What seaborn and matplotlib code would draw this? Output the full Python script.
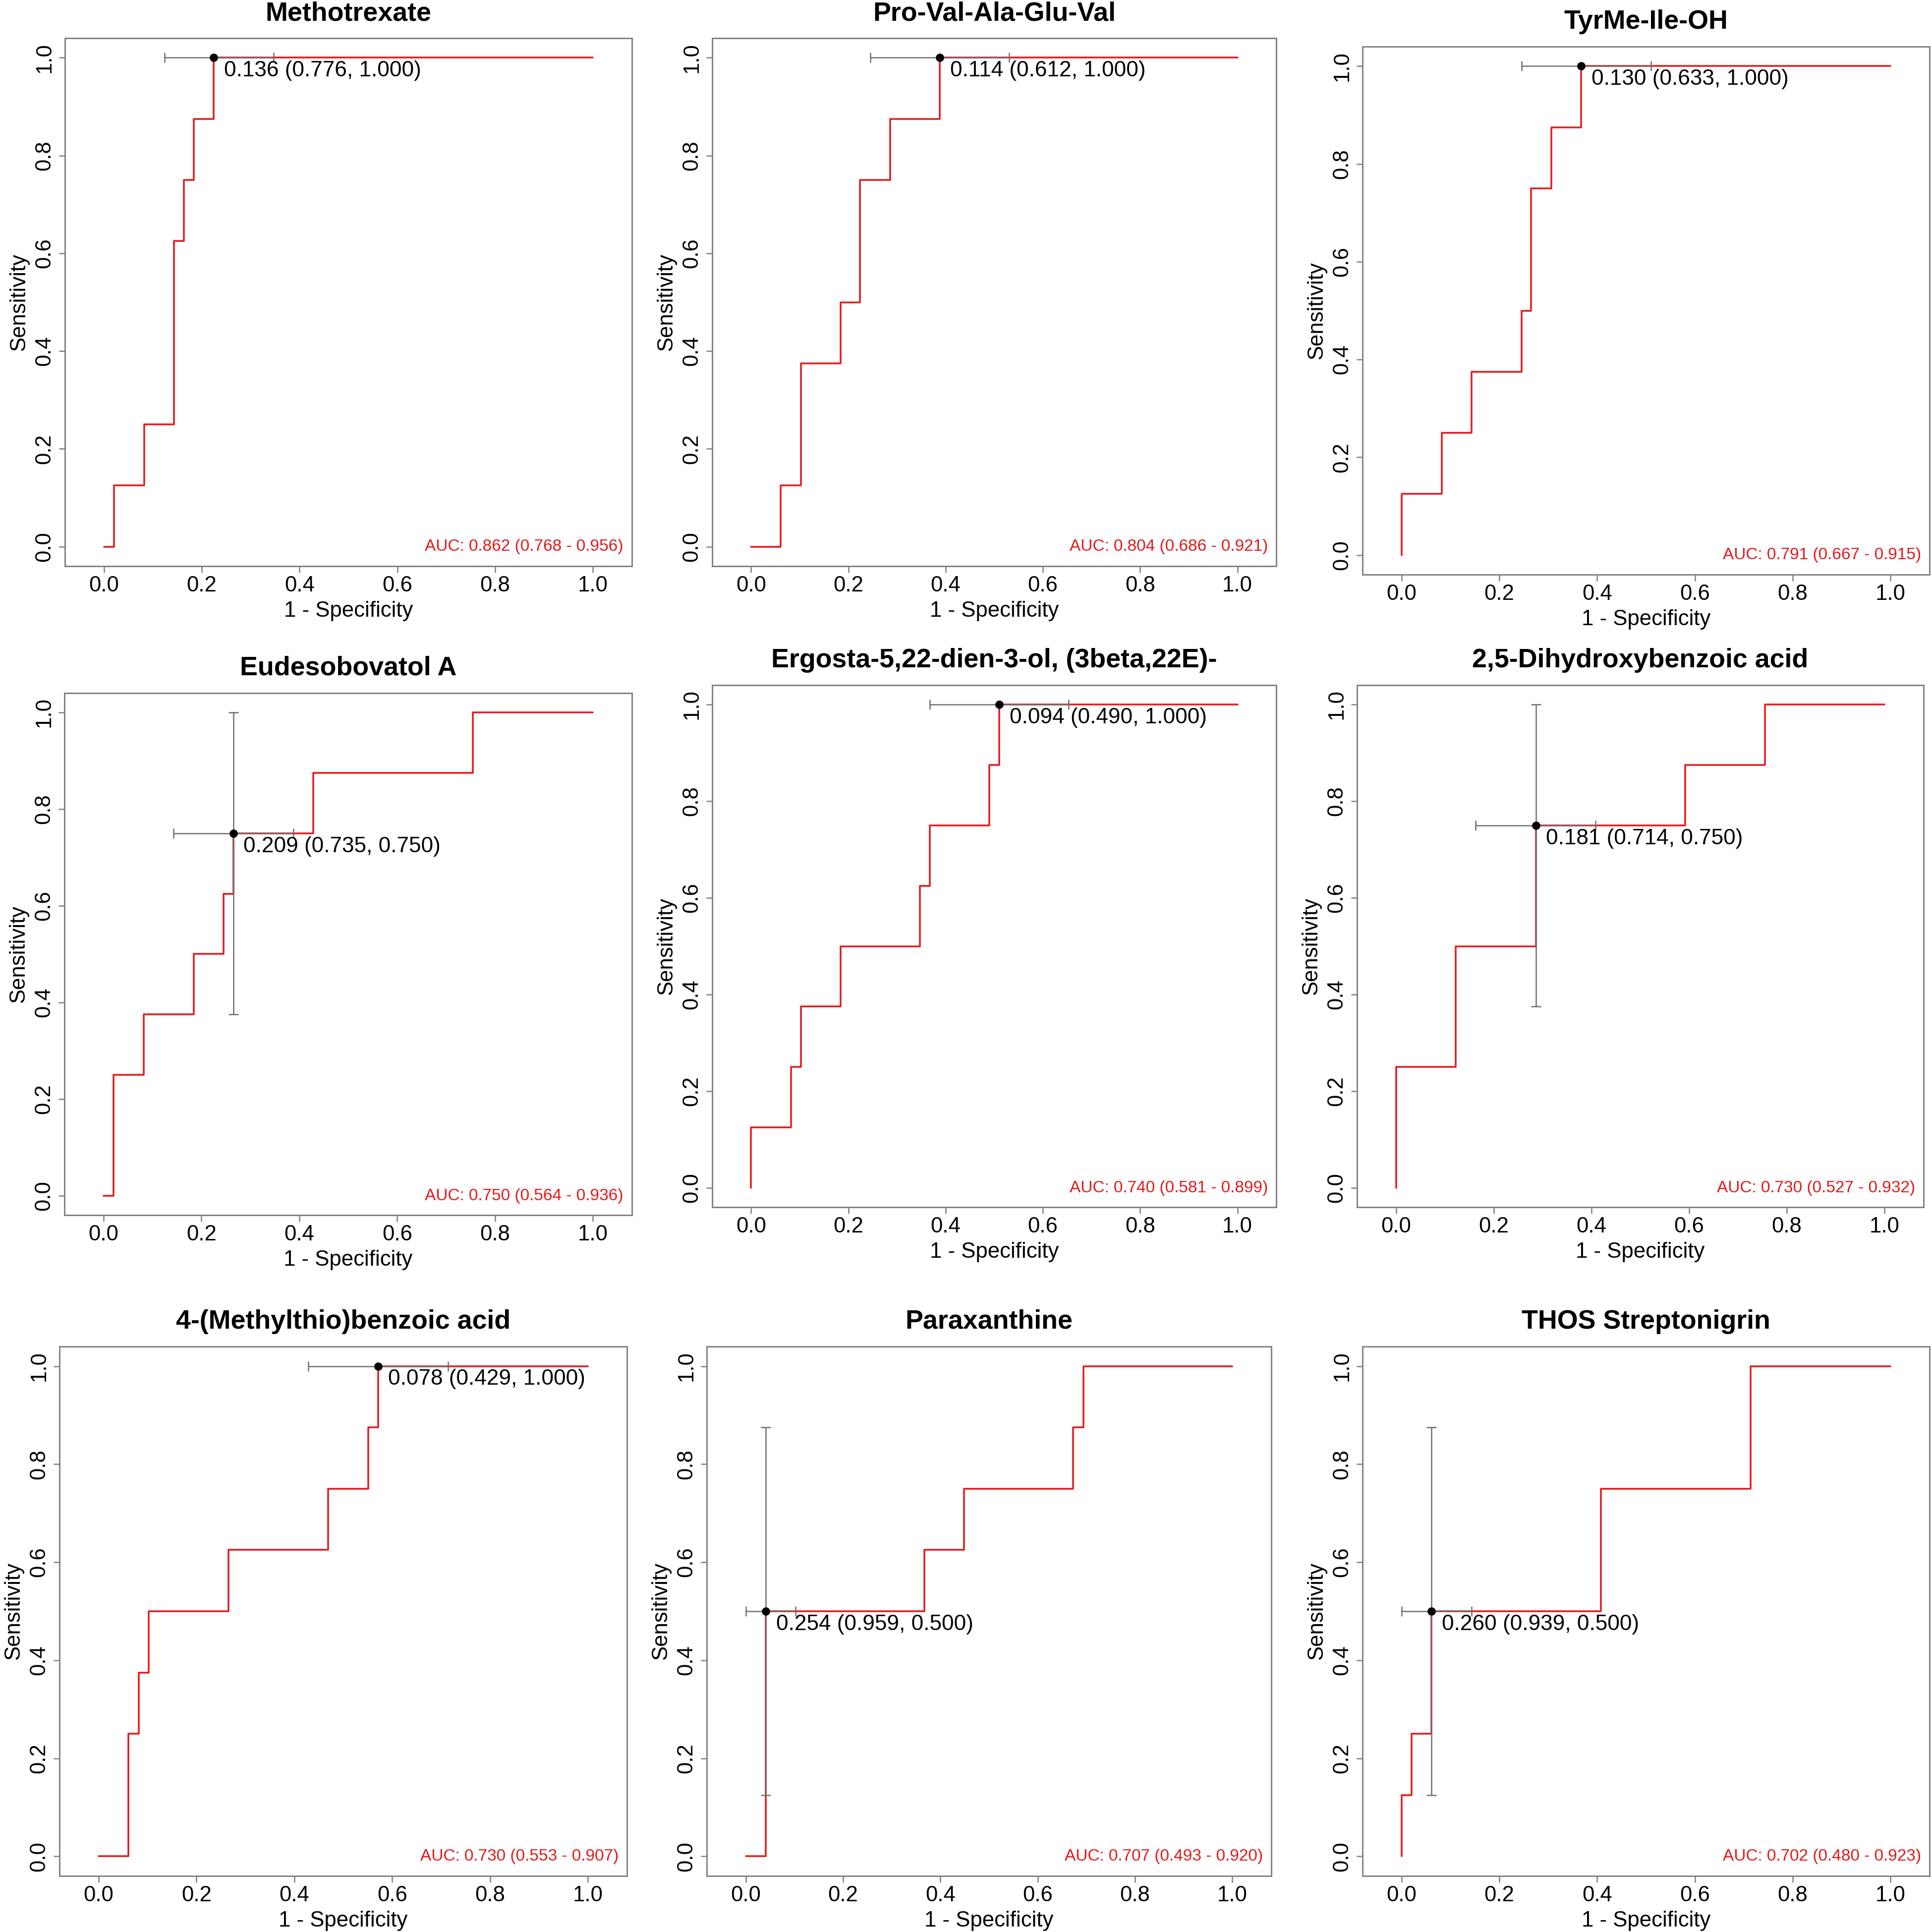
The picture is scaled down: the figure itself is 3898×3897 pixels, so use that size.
import numpy as np
import pandas as pd
import matplotlib
matplotlib.use('Agg')
import matplotlib.pyplot as plt
import seaborn as sns

# =============================================================================
# Data: ROC vertices (1 - specificity, sensitivity)
# =============================================================================

titles = ['Methotrexate', 'Pro-Val-Ala-Glu-Val', 'TyrMe-Ile-OH',
          'Eudesobovatol A', 'Ergosta-5,22-dien-3-ol, (3beta,22E)-',
          '2,5-Dihydroxybenzoic acid', '4-(Methylthio)benzoic acid',
          'Paraxanthine', 'THOS Streptonigrin']

fpr_methotrexate = [0, 0.020, 0.082, 0.143, 0.163, 0.184, 0.224, 1.0]
tpr_methotrexate = [0, 0.125, 0.25, 0.625, 0.75, 0.875, 1.0, 1.0]

fpr_proval = [0, 0.061, 0.102, 0.184, 0.224, 0.286, 0.388, 1.0]
tpr_proval = [0, 0.125, 0.375, 0.5, 0.75, 0.875, 1.0, 1.0]

fpr_tyrme = [0, 0, 0.082, 0.143, 0.245, 0.265, 0.306, 0.367, 1.0]
tpr_tyrme = [0, 0.125, 0.25, 0.375, 0.5, 0.75, 0.875, 1.0, 1.0]

fpr_eudeso = [0, 0.020, 0.082, 0.184, 0.245, 0.265, 0.429, 0.755, 1.0]
tpr_eudeso = [0, 0.25, 0.375, 0.5, 0.625, 0.75, 0.875, 1.0, 1.0]

fpr_ergosta = [0, 0, 0.082, 0.102, 0.184, 0.347, 0.367, 0.490, 0.510, 1.0]
tpr_ergosta = [0, 0.125, 0.25, 0.375, 0.5, 0.625, 0.75, 0.875, 1.0, 1.0]

fpr_dihydroxy = [0, 0, 0.122, 0.286, 0.592, 0.755, 1.0]
tpr_dihydroxy = [0, 0.25, 0.5, 0.75, 0.875, 1.0, 1.0]

fpr_methylthio = [0, 0.061, 0.082, 0.102, 0.265, 0.469, 0.551, 0.571, 1.0]
tpr_methylthio = [0, 0.25, 0.375, 0.5, 0.625, 0.75, 0.875, 1.0, 1.0]

fpr_paraxanthine = [0, 0.041, 0.367, 0.449, 0.673, 0.694, 1.0]
tpr_paraxanthine = [0, 0.5, 0.625, 0.75, 0.875, 1.0, 1.0]

fpr_thos = [0, 0, 0.020, 0.061, 0.408, 0.714, 1.0]
tpr_thos = [0, 0.125, 0.25, 0.5, 0.75, 1.0, 1.0]

# best threshold, its specificity and sensitivity
thresholds = [0.136, 0.114, 0.130, 0.209, 0.094, 0.181, 0.078, 0.254, 0.260]
best_spec = [0.776, 0.612, 0.633, 0.735, 0.490, 0.714, 0.429, 0.959, 0.939]
best_sens = [1.0, 1.0, 1.0, 0.75, 1.0, 0.75, 1.0, 0.5, 0.5]

# confidence bars of the threshold point
ci_fpr_lo = [0.124, 0.245, 0.245, 0.143, 0.367, 0.163, 0.429, 0.0, 0.0]
ci_fpr_hi = [0.347, 0.531, 0.510, 0.388, 0.653, 0.408, 0.714, 0.102, 0.143]
ci_sens_lo = [1.0, 1.0, 1.0, 0.375, 1.0, 0.375, 1.0, 0.125, 0.125]
ci_sens_hi = [1.0, 1.0, 1.0, 1.0, 1.0, 1.0, 1.0, 0.875, 0.875]

auc = [0.862, 0.804, 0.791, 0.750, 0.740, 0.730, 0.730, 0.707, 0.702]
auc_lo = [0.768, 0.686, 0.667, 0.564, 0.581, 0.527, 0.553, 0.493, 0.480]
auc_hi = [0.956, 0.921, 0.915, 0.936, 0.899, 0.932, 0.907, 0.920, 0.923]

curves = [(fpr_methotrexate, tpr_methotrexate), (fpr_proval, tpr_proval),
          (fpr_tyrme, tpr_tyrme), (fpr_eudeso, tpr_eudeso),
          (fpr_ergosta, tpr_ergosta), (fpr_dihydroxy, tpr_dihydroxy),
          (fpr_methylthio, tpr_methylthio), (fpr_paraxanthine, tpr_paraxanthine),
          (fpr_thos, tpr_thos)]

# =============================================================================
# Layout (pixel boxes of each panel: left, top, right, bottom)
# =============================================================================

W, H = 3898, 3897
boxes = [(131, 77, 1275, 1142), (1437, 77, 2575, 1142), (2749, 94, 3893, 1159),
         (130, 1398, 1275, 2451), (1437, 1382, 2575, 2435), (2738, 1382, 3881, 2435),
         (120, 2716, 1265, 3784), (1426, 2716, 2565, 3784), (2749, 2716, 3893, 3784)]

sns.set_theme(style='white')
plt.rcParams['font.family'] = ['Liberation Sans', 'DejaVu Sans']

red = '#e41a1c'
gray = '#808080'
bar_gray = '#6e6e6e'

fig = plt.figure(figsize=(W / 300, H / 300), dpi=300)

for i, (fpr, tpr) in enumerate(curves):
    l, t, r, b = boxes[i]
    ax = fig.add_axes([l / W, 1 - b / H, (r - l) / W, (b - t) / H])

    df = pd.DataFrame({'fpr': fpr, 'tpr': tpr})
    sns.lineplot(data=df, x='fpr', y='tpr', ax=ax, estimator=None, sort=False,
                 drawstyle='steps-post', color=red, lw=0.85, zorder=2)

    px = 1 - best_spec[i]
    py = best_sens[i]
    ax.errorbar([px], [py], xerr=[[px - ci_fpr_lo[i]], [ci_fpr_hi[i] - px]],
                fmt='none', ecolor=bar_gray, elinewidth=0.6, capsize=2.4,
                capthick=0.6, zorder=3)
    if ci_sens_hi[i] > ci_sens_lo[i]:
        ax.errorbar([px], [py], yerr=[[py - ci_sens_lo[i]], [ci_sens_hi[i] - py]],
                    fmt='none', ecolor=bar_gray, elinewidth=0.6, capsize=2.4,
                    capthick=0.6, zorder=3)
    ax.plot([px], [py], 'o', color='black', ms=3, zorder=5)
    ax.annotate(f'{thresholds[i]:.3f} ({best_spec[i]:.3f}, {best_sens[i]:.3f})',
                xy=(px, py), xytext=(5, -6.3), textcoords='offset points',
                ha='left', va='center', fontsize=10.6, color='black', zorder=6)

    ax.text(0.985, 0, f'AUC: {auc[i]:.3f} ({auc_lo[i]:.3f} - {auc_hi[i]:.3f})',
            transform=ax.get_yaxis_transform(), ha='right', va='center',
            fontsize=8, color=red)

    ax.set_xlim(-0.08, 1.08)
    ax.set_ylim(-0.04, 1.04)
    ticks = [0, 0.2, 0.4, 0.6, 0.8, 1.0]
    ax.set_xticks(ticks)
    ax.set_xticklabels([f'{v:.1f}' for v in ticks])
    ax.set_yticks(ticks)
    ax.set_yticklabels([f'{v:.1f}' for v in ticks], rotation=90, va='center')
    ax.tick_params(axis='both', direction='out', length=3, width=0.6,
                   color=gray, labelsize=10.5, labelcolor='black')
    ax.tick_params(axis='x', pad=1.5, bottom=True)
    ax.tick_params(axis='y', pad=2, left=True)
    for sp in ax.spines.values():
        sp.set_color(gray)
        sp.set_linewidth(0.7)
        sp.set_visible(True)
    ax.grid(False)

    ax.set_xlabel('1 - Specificity', fontsize=10.5, labelpad=2.4, color='black')
    ax.set_ylabel('Sensitivity', fontsize=10.5, labelpad=2.4, color='black')

    ax.text(0.5, 1 + 50 / (b - t), titles[i], transform=ax.transAxes,
            ha='center', va='center', fontsize=12.9, fontweight='bold',
            color='black')

fig.savefig('out.png', dpi=300, facecolor='white')
